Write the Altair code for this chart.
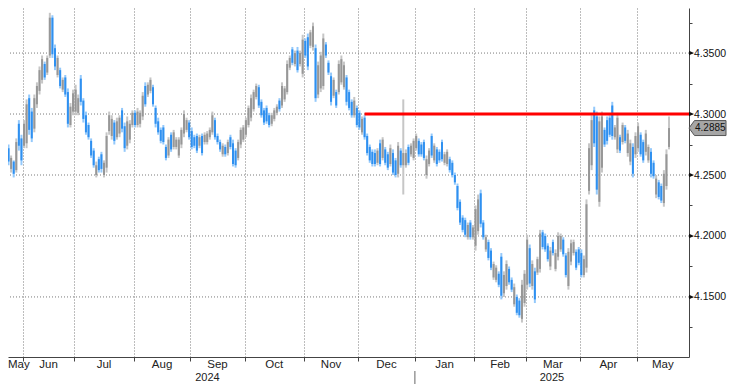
import altair as alt
import pandas as pd

# trading days shown on the x axis (weekdays)
dates = pd.bdate_range("2024-05-21", "2025-05-19")

highs = [
    4.266, 4.262, 4.275, 4.275, 4.266, 4.262, 4.280, 4.295, 4.283, 4.295,
    4.312, 4.316, 4.305, 4.316, 4.326, 4.339, 4.348, 4.343, 4.348, 4.383,
    4.381, 4.357, 4.348, 4.338, 4.330, 4.332, 4.321, 4.309, 4.320, 4.324,
    4.316, 4.332, 4.313, 4.302, 4.293, 4.280, 4.272, 4.261, 4.265, 4.269,
    4.262, 4.285, 4.302, 4.299, 4.295, 4.297, 4.299, 4.305, 4.293, 4.298,
    4.295, 4.303, 4.303, 4.305, 4.303, 4.318, 4.326, 4.326, 4.330, 4.324,
    4.307, 4.297, 4.289, 4.291, 4.275, 4.281, 4.285, 4.287, 4.281, 4.281,
    4.289, 4.303, 4.297, 4.295, 4.289, 4.283, 4.284, 4.283, 4.284, 4.285,
    4.286, 4.289, 4.302, 4.297, 4.284, 4.279, 4.276, 4.275, 4.279, 4.283,
    4.279, 4.272, 4.279, 4.289, 4.291, 4.297, 4.307, 4.316, 4.320, 4.325,
    4.324, 4.312, 4.305, 4.307, 4.301, 4.301, 4.305, 4.308, 4.313, 4.326,
    4.323, 4.344, 4.348, 4.355, 4.352, 4.355, 4.352, 4.365, 4.362, 4.366,
    4.369, 4.375, 4.357, 4.343, 4.351, 4.366, 4.359, 4.344, 4.334, 4.330,
    4.320, 4.344, 4.348, 4.343, 4.332, 4.320, 4.312, 4.314, 4.307, 4.303,
    4.298, 4.299, 4.284, 4.275, 4.271, 4.271, 4.272, 4.279, 4.281, 4.273,
    4.269, 4.275, 4.271, 4.264, 4.277, 4.272, 4.312, 4.271, 4.275, 4.276,
    4.280, 4.284, 4.280, 4.277, 4.279, 4.266, 4.272, 4.284, 4.276, 4.273,
    4.271, 4.279, 4.269, 4.271, 4.265, 4.262, 4.252, 4.243, 4.230, 4.217,
    4.215, 4.211, 4.213, 4.209, 4.225, 4.234, 4.238, 4.213, 4.201, 4.197,
    4.190, 4.179, 4.176, 4.171, 4.186, 4.171, 4.180, 4.175, 4.166, 4.161,
    4.152, 4.149, 4.164, 4.172, 4.201, 4.193, 4.180, 4.174, 4.183, 4.205,
    4.205, 4.202, 4.194, 4.191, 4.197, 4.189, 4.203, 4.202, 4.199, 4.186,
    4.190, 4.197, 4.197, 4.189, 4.191, 4.189, 4.184, 4.230, 4.276, 4.299,
    4.306, 4.302, 4.298, 4.302, 4.289, 4.298, 4.299, 4.310, 4.291, 4.301,
    4.283, 4.293, 4.291, 4.287, 4.279, 4.276, 4.285, 4.293, 4.285, 4.279,
    4.287, 4.275, 4.272, 4.262, 4.250, 4.246, 4.243, 4.254, 4.271, 4.298,
]
lows = [
    4.250, 4.252, 4.256, 4.258, 4.252, 4.248, 4.252, 4.270, 4.258, 4.272,
    4.272, 4.283, 4.277, 4.285, 4.305, 4.316, 4.325, 4.328, 4.332, 4.346,
    4.346, 4.336, 4.330, 4.321, 4.318, 4.314, 4.289, 4.289, 4.299, 4.299,
    4.299, 4.307, 4.293, 4.283, 4.279, 4.264, 4.256, 4.248, 4.252, 4.252,
    4.248, 4.252, 4.283, 4.279, 4.275, 4.279, 4.281, 4.285, 4.269, 4.271,
    4.276, 4.289, 4.289, 4.289, 4.289, 4.295, 4.306, 4.314, 4.317, 4.306,
    4.289, 4.283, 4.276, 4.275, 4.262, 4.264, 4.269, 4.271, 4.271, 4.264,
    4.272, 4.281, 4.285, 4.279, 4.271, 4.272, 4.268, 4.272, 4.266, 4.275,
    4.275, 4.279, 4.283, 4.279, 4.275, 4.269, 4.265, 4.265, 4.266, 4.271,
    4.257, 4.256, 4.262, 4.272, 4.277, 4.281, 4.289, 4.294, 4.302, 4.312,
    4.305, 4.297, 4.291, 4.292, 4.289, 4.290, 4.294, 4.299, 4.302, 4.305,
    4.310, 4.316, 4.336, 4.340, 4.339, 4.334, 4.339, 4.330, 4.346, 4.336,
    4.354, 4.352, 4.310, 4.313, 4.318, 4.320, 4.346, 4.332, 4.307, 4.313,
    4.305, 4.316, 4.324, 4.320, 4.307, 4.303, 4.297, 4.297, 4.289, 4.287,
    4.283, 4.279, 4.266, 4.260, 4.257, 4.257, 4.258, 4.257, 4.262, 4.258,
    4.254, 4.257, 4.250, 4.248, 4.248, 4.256, 4.234, 4.256, 4.258, 4.265,
    4.262, 4.270, 4.265, 4.265, 4.262, 4.247, 4.257, 4.264, 4.260, 4.257,
    4.260, 4.261, 4.258, 4.257, 4.252, 4.248, 4.242, 4.221, 4.209, 4.203,
    4.199, 4.197, 4.197, 4.197, 4.188, 4.201, 4.207, 4.197, 4.187, 4.180,
    4.172, 4.164, 4.162, 4.158, 4.148, 4.150, 4.156, 4.160, 4.154, 4.142,
    4.135, 4.133, 4.129, 4.142, 4.156, 4.158, 4.156, 4.145, 4.168, 4.170,
    4.189, 4.187, 4.179, 4.172, 4.184, 4.171, 4.180, 4.187, 4.183, 4.166,
    4.156, 4.176, 4.184, 4.172, 4.176, 4.166, 4.166, 4.170, 4.234, 4.254,
    4.273, 4.234, 4.224, 4.252, 4.273, 4.275, 4.281, 4.279, 4.279, 4.268,
    4.268, 4.275, 4.276, 4.265, 4.258, 4.248, 4.264, 4.269, 4.265, 4.260,
    4.266, 4.260, 4.248, 4.247, 4.231, 4.230, 4.227, 4.224, 4.238, 4.271,
]
opens = [
    4.263, 4.254, 4.259, 4.272, 4.255, 4.261, 4.254, 4.292, 4.280, 4.274,
    4.276, 4.313, 4.302, 4.288, 4.308, 4.319, 4.328, 4.341, 4.334, 4.348,
    4.379, 4.354, 4.332, 4.336, 4.320, 4.330, 4.318, 4.291, 4.302, 4.302,
    4.301, 4.329, 4.311, 4.299, 4.291, 4.278, 4.270, 4.250, 4.263, 4.267,
    4.250, 4.256, 4.286, 4.282, 4.293, 4.281, 4.284, 4.303, 4.290, 4.274,
    4.279, 4.291, 4.301, 4.291, 4.292, 4.298, 4.323, 4.316, 4.319, 4.322,
    4.305, 4.294, 4.287, 4.289, 4.273, 4.266, 4.283, 4.273, 4.273, 4.266,
    4.275, 4.284, 4.287, 4.293, 4.286, 4.281, 4.282, 4.274, 4.282, 4.277,
    4.277, 4.281, 4.285, 4.295, 4.282, 4.277, 4.267, 4.273, 4.268, 4.281,
    4.276, 4.270, 4.264, 4.275, 4.279, 4.283, 4.291, 4.297, 4.304, 4.314,
    4.322, 4.310, 4.303, 4.305, 4.299, 4.292, 4.296, 4.301, 4.311, 4.307,
    4.312, 4.318, 4.338, 4.353, 4.341, 4.352, 4.341, 4.333, 4.360, 4.363,
    4.356, 4.355, 4.354, 4.316, 4.321, 4.323, 4.357, 4.342, 4.331, 4.315,
    4.318, 4.318, 4.326, 4.322, 4.330, 4.318, 4.310, 4.299, 4.305, 4.301,
    4.285, 4.297, 4.282, 4.273, 4.269, 4.268, 4.260, 4.276, 4.264, 4.271,
    4.267, 4.259, 4.268, 4.262, 4.251, 4.270, 4.258, 4.258, 4.273, 4.267,
    4.264, 4.272, 4.278, 4.275, 4.277, 4.250, 4.259, 4.282, 4.262, 4.271,
    4.269, 4.277, 4.260, 4.259, 4.263, 4.260, 4.250, 4.241, 4.228, 4.215,
    4.213, 4.199, 4.211, 4.199, 4.192, 4.204, 4.235, 4.211, 4.189, 4.195,
    4.188, 4.166, 4.164, 4.169, 4.183, 4.153, 4.159, 4.173, 4.164, 4.144,
    4.150, 4.147, 4.132, 4.145, 4.160, 4.190, 4.159, 4.171, 4.170, 4.173,
    4.203, 4.200, 4.192, 4.175, 4.195, 4.173, 4.183, 4.189, 4.197, 4.184,
    4.159, 4.179, 4.186, 4.187, 4.189, 4.186, 4.168, 4.174, 4.237, 4.258,
    4.303, 4.298, 4.228, 4.256, 4.287, 4.295, 4.297, 4.307, 4.281, 4.271,
    4.281, 4.277, 4.289, 4.268, 4.261, 4.273, 4.267, 4.272, 4.283, 4.277,
    4.269, 4.262, 4.269, 4.260, 4.234, 4.244, 4.241, 4.227, 4.241, 4.273,
]
closes = [
    4.254, 4.260, 4.271, 4.261, 4.264, 4.251, 4.277, 4.274, 4.262, 4.292,
    4.308, 4.287, 4.280, 4.313, 4.323, 4.336, 4.345, 4.330, 4.346, 4.379,
    4.349, 4.339, 4.346, 4.323, 4.328, 4.316, 4.292, 4.306, 4.317, 4.320,
    4.313, 4.310, 4.296, 4.285, 4.281, 4.266, 4.258, 4.258, 4.254, 4.255,
    4.260, 4.282, 4.299, 4.296, 4.278, 4.294, 4.297, 4.288, 4.272, 4.294,
    4.292, 4.301, 4.291, 4.302, 4.301, 4.315, 4.308, 4.324, 4.328, 4.308,
    4.292, 4.285, 4.278, 4.277, 4.264, 4.279, 4.271, 4.285, 4.279, 4.279,
    4.287, 4.300, 4.295, 4.281, 4.273, 4.274, 4.270, 4.281, 4.268, 4.283,
    4.284, 4.287, 4.299, 4.281, 4.277, 4.271, 4.274, 4.267, 4.277, 4.273,
    4.259, 4.258, 4.277, 4.287, 4.289, 4.295, 4.305, 4.313, 4.318, 4.323,
    4.307, 4.299, 4.293, 4.294, 4.291, 4.299, 4.303, 4.306, 4.304, 4.323,
    4.321, 4.341, 4.346, 4.342, 4.350, 4.336, 4.350, 4.361, 4.348, 4.339,
    4.367, 4.372, 4.313, 4.340, 4.348, 4.362, 4.348, 4.334, 4.310, 4.328,
    4.307, 4.341, 4.345, 4.340, 4.310, 4.305, 4.299, 4.311, 4.291, 4.289,
    4.296, 4.281, 4.268, 4.262, 4.259, 4.259, 4.270, 4.259, 4.279, 4.260,
    4.256, 4.272, 4.252, 4.250, 4.274, 4.258, 4.268, 4.268, 4.260, 4.274,
    4.278, 4.282, 4.267, 4.267, 4.264, 4.263, 4.270, 4.266, 4.274, 4.259,
    4.262, 4.263, 4.267, 4.269, 4.254, 4.250, 4.244, 4.223, 4.211, 4.205,
    4.201, 4.209, 4.199, 4.207, 4.222, 4.230, 4.210, 4.199, 4.199, 4.182,
    4.174, 4.177, 4.174, 4.160, 4.151, 4.168, 4.177, 4.162, 4.156, 4.158,
    4.137, 4.135, 4.160, 4.169, 4.197, 4.161, 4.177, 4.148, 4.181, 4.202,
    4.191, 4.189, 4.181, 4.188, 4.186, 4.186, 4.200, 4.200, 4.185, 4.168,
    4.187, 4.194, 4.195, 4.174, 4.178, 4.168, 4.181, 4.226, 4.272, 4.295,
    4.276, 4.238, 4.294, 4.298, 4.275, 4.278, 4.283, 4.282, 4.289, 4.297,
    4.270, 4.291, 4.278, 4.284, 4.276, 4.251, 4.282, 4.290, 4.267, 4.262,
    4.284, 4.273, 4.251, 4.249, 4.247, 4.232, 4.229, 4.251, 4.267, 4.2885,
]

month_labels = ["May", "Jun", "Jul", "Aug", "Sep", "Oct", "Nov",
                "Dec", "Jan", "Feb", "Mar", "Apr", "May"]
year_labels = ["2024", "2025"]
major_ticks = [4.15, 4.20, 4.25, 4.30, 4.35]
minor_ticks = [4.125, 4.175, 4.225, 4.275, 4.325, 4.375]
resistance_level = 4.30
resistance_start = "2024-12-04"

FONT = "Liberation Sans"
n = len(dates)
df = pd.DataFrame({"idx": list(range(n)), "o": opens, "h": highs,
                   "l": lows, "c": closes})

# scale extents (trading-day index units / price)
X_MIN, X_MAX, X_REF0 = 2.79, 266.74, -0.31
Y_MIN, Y_MAX = 4.10076, 4.38694

bounds = [k - 0.5 for k in range(1, n) if dates[k].month != dates[k - 1].month]
edges = [X_MIN] + bounds + [X_MAX]
months_df = pd.DataFrame({
    "pos": [(a + b) / 2 for a, b in zip(edges[:-1], edges[1:])],
    "label": month_labels,
})
first_month = months_df.iloc[:1].assign(pos=X_MIN)
other_months = months_df.iloc[1:]
year_b = [k - 0.5 for k in range(1, n) if dates[k].year != dates[k - 1].year][0]
years_df = pd.DataFrame({"pos": [(X_REF0 + year_b) / 2, (year_b + X_MAX) / 2],
                         "label": year_labels})
start_idx = int(list(dates.strftime("%Y-%m-%d")).index(resistance_start))

xsc = alt.Scale(domain=[X_MIN, X_MAX], nice=False, zero=False)
ysc = alt.Scale(domain=[Y_MIN, Y_MAX], nice=False, zero=False)
xax = alt.Axis(values=bounds, grid=True, gridDash=[1, 2], gridColor="#7a7a7a",
               gridWidth=1, labels=False, ticks=True, tickSize=4,
               tickColor="#444444", domainColor="#444444", title=None)
yax = alt.Axis(orient="right", values=sorted(major_ticks + minor_ticks),
               grid=False, tickSize=3, tickColor="#444444",
               domainColor="#444444", labelFont=FONT, labelFontSize=10.5,
               labelColor="#111111", labelPadding=1.5, labelOverlap=False,
               labelExpr="abs(round(datum.value * 1000) % 50) < 1 ? format(datum.value, '.4f') : ''",
               title=None)


def X(f):
    return alt.X(f"{f}:Q", scale=xsc, axis=xax)


def Y(f):
    return alt.Y(f"{f}:Q", scale=ysc, axis=yax)


up = "datum.c >= datum.o"

grid_h = alt.Chart(pd.DataFrame({"v": major_ticks})).mark_rule(
    strokeDash=[1, 2], color="#7a7a7a", strokeWidth=1).encode(y=Y("v"))

wick = alt.Chart(df).mark_rule(strokeWidth=2, clip=True).encode(
    x=X("idx"), y=Y("l"), y2="h",
    color=alt.condition(up, alt.value("#c6c6c6"), alt.value("#94c9fb")))

body = alt.Chart(df).mark_rule(strokeWidth=2, clip=True).encode(
    x=X("idx"), y=Y("o"), y2="c",
    color=alt.condition(up, alt.value("#979797"), alt.value("#2f90f0")))

res = alt.Chart(pd.DataFrame({"start": [start_idx], "end": [X_MAX],
                              "v": [resistance_level]})).mark_rule(
    color="#ff0000", strokeWidth=3).encode(x=X("start"), x2="end", y=Y("v"))

tri = alt.Chart(pd.DataFrame({"v": major_ticks})).mark_point(
    shape="M -1 -0.9 L 1 0 L -1 0.9 Z", filled=True, fill="#111111",
    size=25, opacity=1, strokeWidth=0).encode(x=alt.value(683.5), y=Y("v"))

last_df = pd.DataFrame({"v": [closes[-1]], "label": [f"{closes[-1]:.4f}"]})
box = alt.Chart(last_df).mark_point(
    shape="M -1 0 L -0.703 -0.405 L 1 -0.405 L 1 0.405 L -0.703 0.405 Z",
    filled=True, fill="#a6a6a6", stroke="#555555", strokeWidth=1,
    size=1369, opacity=1).encode(x=alt.value(699.5), y=Y("v"))
box_txt = alt.Chart(last_df).mark_text(
    font=FONT, fontSize=10, color="#111111", align="center",
    baseline="middle").encode(x=alt.value(702.3), y=Y("v"), text="label:N")

months = alt.Chart(other_months).mark_text(
    font=FONT, fontSize=11.5, color="#222222", align="center",
    baseline="middle").encode(x=X("pos"), y=alt.value(356.5), text="label:N")
month0 = alt.Chart(first_month).mark_text(
    font=FONT, fontSize=11.5, color="#222222", align="left", dx=0,
    baseline="middle").encode(x=X("pos"), y=alt.value(356.5), text="label:N")
years = alt.Chart(years_df).mark_text(
    font=FONT, fontSize=11, color="#222222", align="center",
    baseline="middle").encode(x=X("pos"), y=alt.value(369.5), text="label:N")
sep = alt.Chart(pd.DataFrame({"pos": [year_b]})).mark_rule(
    color="#666666", strokeWidth=1).encode(
    x=X("pos"), y=alt.value(363), y2=alt.value(376))

chart = alt.layer(grid_h, wick, body, res, tri, box, box_txt, months, month0,
                  years, sep).properties(
    width=681, height=349,
    padding={"left": 0, "top": 0, "right": 38, "bottom": 27},
    autosize=alt.AutoSizeParams(type="none"),
).configure(background="white").configure_view(stroke=None)

chart.save("out.html", embed_options={"renderer": "svg", "actions": False})
